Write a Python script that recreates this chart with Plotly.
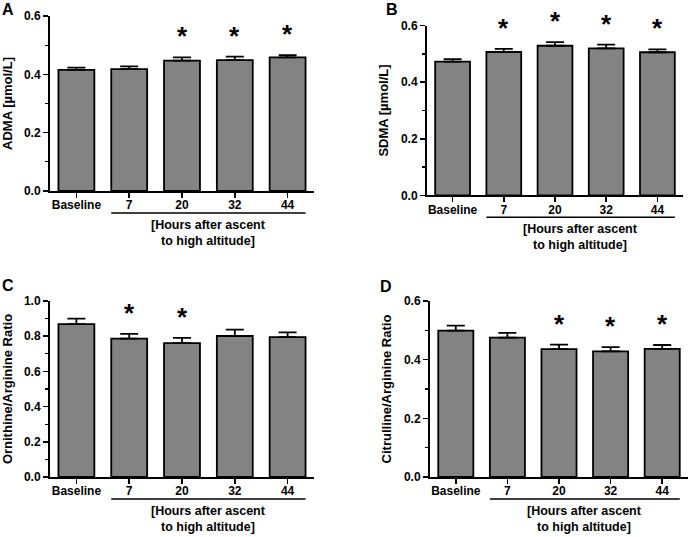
import plotly.graph_objects as go

categories = ["Baseline", "7", "20", "32", "44"]

adma = [0.415, 0.418, 0.447, 0.449, 0.458]
adma_err = [0.008, 0.009, 0.011, 0.012, 0.008]
adma_sig = [False, False, True, True, True]

sdma = [0.473, 0.507, 0.529, 0.520, 0.506]
sdma_err = [0.009, 0.011, 0.013, 0.013, 0.010]
sdma_sig = [False, True, True, True, True]

orn_arg = [0.869, 0.786, 0.761, 0.801, 0.795]
orn_arg_err = [0.031, 0.027, 0.029, 0.036, 0.027]
orn_arg_sig = [False, True, True, False, False]

cit_arg = [0.499, 0.475, 0.436, 0.428, 0.437]
cit_arg_err = [0.017, 0.016, 0.015, 0.015, 0.013]
cit_arg_sig = [False, False, True, True, True]

panels = [
    dict(letter="A", title="ADMA [µmol/L]", vals=adma, err=adma_err, sig=adma_sig,
         ymax=0.6, dtick=0.2, minor=0.1, xd=(50, 314), yd=(191, 16), lx=8, ly=9),
    dict(letter="B", title="SDMA [µmol/L]", vals=sdma, err=sdma_err, sig=sdma_sig,
         ymax=0.6, dtick=0.2, minor=0.1, xd=(427, 683), yd=(195.3, 25.7), lx=392, ly=10),
    dict(letter="C", title="Ornithine/Arginine Ratio", vals=orn_arg, err=orn_arg_err, sig=orn_arg_sig,
         ymax=1.0, dtick=0.2, minor=0.1, xd=(50, 314), yd=(477, 301), lx=8, ly=285),
    dict(letter="D", title="Citrulline/Arginine Ratio", vals=cit_arg, err=cit_arg_err, sig=cit_arg_sig,
         ymax=0.6, dtick=0.2, minor=0.1, xd=(430, 688), yd=(477, 301), lx=386, ly=286),
]

W, H = 696, 537
FONT = "Liberation Sans, Arial, sans-serif"
fig = go.Figure()
annotations = []
shapes = []

for i, p in enumerate(panels):
    n = "" if i == 0 else str(i + 1)
    xa, ya = "x" + n, "y" + n
    fig.add_trace(go.Bar(
        x=categories, y=p["vals"], xaxis=xa, yaxis=ya,
        marker=dict(color="#838383", line=dict(color="black", width=1.8)),
        width=0.68,
        error_y=dict(type="data", array=p["err"], arrayminus=[0] * 5, symmetric=False,
                     color="black", thickness=1.8, width=9),
        showlegend=False,
    ))
    layout_x = dict(
        domain=[p["xd"][0] / W, p["xd"][1] / W], anchor=ya, range=[-0.5, 4.5],
        type="category", showline=True, linecolor="black", linewidth=2,
        ticks="outside", ticklen=5, tickwidth=1.5, tickcolor="black",
        ticklabelstandoff=-3,
        tickfont=dict(family=FONT, size=12, color="black", weight="bold"),
        showgrid=False, zeroline=False, fixedrange=True, automargin=False,
    )
    layout_y = dict(
        domain=[1 - p["yd"][0] / H, 1 - p["yd"][1] / H], anchor=xa, range=[0, p["ymax"]],
        showline=True, linecolor="black", linewidth=2,
        ticks="outside", ticklen=5, tickwidth=1.5, tickcolor="black",
        dtick=p["dtick"], tick0=0, tickformat=".1f",
        minor=dict(dtick=p["minor"], ticks="outside", ticklen=3, tickwidth=1.2, tickcolor="black", showgrid=False),
        tickfont=dict(family=FONT, size=12, color="black", weight="bold"),
        title=dict(text=p["title"], font=dict(family=FONT, size=13, color="black", weight="bold"), standoff=9),
        showgrid=False, zeroline=False, fixedrange=True, automargin=False,
    )
    fig.update_layout({"xaxis" + n: layout_x, "yaxis" + n: layout_y})

    # significance stars
    for k, (v, e, s) in enumerate(zip(p["vals"], p["err"], p["sig"])):
        if s:
            annotations.append(dict(
                x=k, y=v + e, xref=xa, yref=ya, text="*", showarrow=False,
                yanchor="bottom", yshift=4,
                font=dict(family=FONT, size=26, color="black", weight="bold"),
            ))
    # bracket underline for hours
    shapes.append(dict(
        type="line", xref=xa, yref=ya + " domain", ysizemode="pixel", yanchor=0,
        x0=1 - 0.34, x1=4 + 0.34, y0=-22, y1=-22,
        line=dict(color="black", width=1.5),
    ))
    annotations.append(dict(
        x=2.5, y=0, xref=xa, yref=ya + " domain",
        text="[Hours after ascent<br>to high altitude]", showarrow=False,
        yanchor="middle", yshift=-42,
        font=dict(family=FONT, size=12.5, color="black", weight="bold"),
    ))
    annotations.append(dict(
        x=p["lx"] / W, y=1 - p["ly"] / H, xref="paper", yref="paper", text=p["letter"],
        showarrow=False, xanchor="center", yanchor="middle",
        font=dict(family=FONT, size=16, color="black", weight="bold"),
    ))

fig.update_layout(
    width=W, height=H, margin=dict(l=0, r=0, t=0, b=0),
    paper_bgcolor="white", plot_bgcolor="white",
    annotations=annotations, shapes=shapes, bargap=0.32,
)

fig.write_html(
    "out.html",
    config={"displayModeBar": False, "staticPlot": True},
    post_script="document.body.style.margin='0';document.body.style.padding='0';document.body.style.overflow='hidden';",
)
